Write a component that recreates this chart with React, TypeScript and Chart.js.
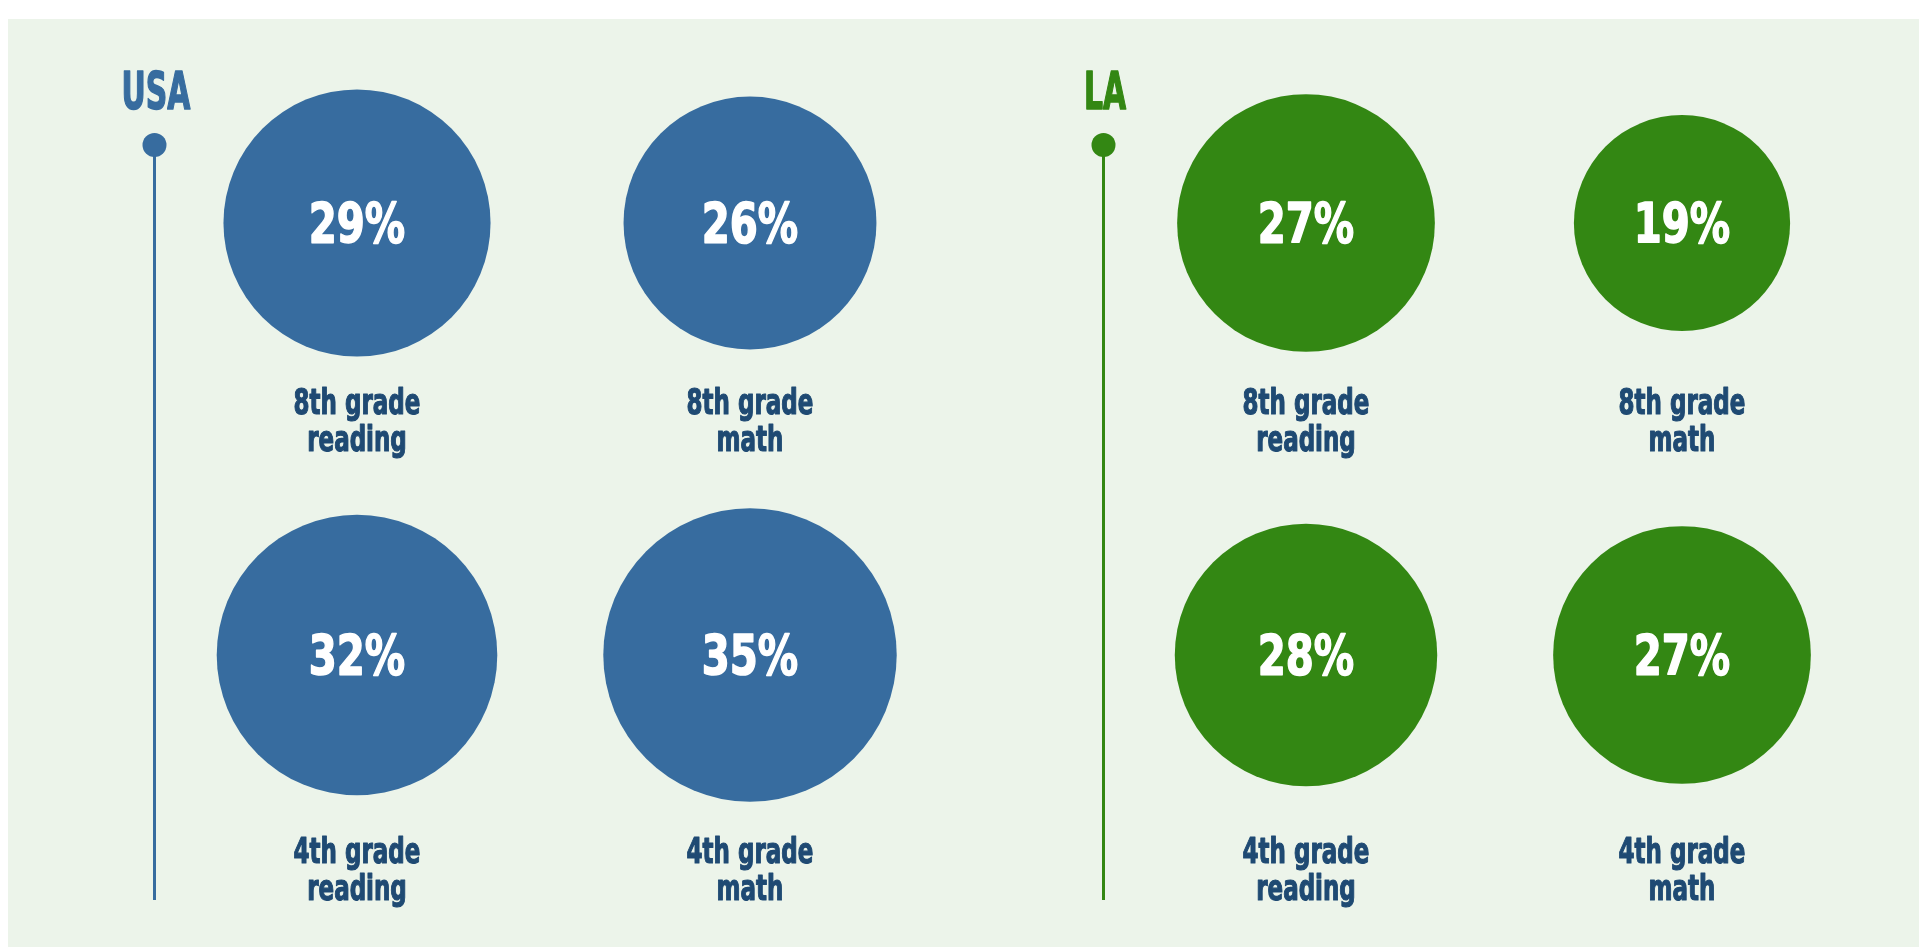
import React, { useEffect, useRef } from 'react';
import { Chart, registerables } from 'chart.js';

Chart.register(...registerables);

// ---- data ----
const SUBJECTS = ['reading', 'math'];
const GRADES = ['8th grade', '4th grade'];
const USA_8TH = [29, 26];
const USA_4TH = [32, 35];
const LA_8TH = [27, 19];
const LA_4TH = [28, 27];

// ---- style ----
const BLUE = '#376C9F';
const GREEN = '#338713';
const LABEL = '#1F4A73';
const BG = '#ECF4EA';
const FONT = '"Liberation Sans Narrow", "DejaVu Sans Condensed", Roboto, sans-serif';
const RADIUS_PER_SQRT = 24.8;
const LABEL_OFFSET = [191, 208];
const LINE_GAP = 36.5;

function drawText(
  ctx: CanvasRenderingContext2D,
  text: string,
  x: number,
  y: number,
  size: number,
  sx: number,
  color: string,
  stroke = 0
) {
  ctx.save();
  ctx.translate(x, y);
  ctx.scale(sx, 1);
  ctx.font = `bold ${size}px ${FONT}`;
  ctx.fillStyle = color;
  ctx.textAlign = 'center';
  ctx.textBaseline = 'alphabetic';
  ctx.fillText(text, 0, 0);
  if (stroke > 0) {
    ctx.strokeStyle = color;
    ctx.lineWidth = stroke;
    ctx.lineJoin = 'round';
    ctx.strokeText(text, 0, 0);
  }
  ctx.restore();
}

type GroupProps = {
  title: string;
  color: string;
  row8: number[];
  row4: number[];
  left: number;
  width: number;
  pad: { left: number; right: number; top: number; bottom: number };
};

function Group({ title, color, row8, row4, left, width, pad }: GroupProps) {
  const ref = useRef<HTMLCanvasElement | null>(null);
  useEffect(() => {
    if (!ref.current) return;
    const rows = [row8, row4];
    const data: any[] = [];
    rows.forEach((vals, gi) => {
      vals.forEach((v, si) => {
        data.push({ x: SUBJECTS[si], y: GRADES[gi], v, row: gi, subject: SUBJECTS[si] });
      });
    });

    const overlay = {
      id: 'overlay',
      beforeDatasetsDraw(chart: any) {
        const ctx: CanvasRenderingContext2D = chart.ctx;
        const ca = chart.chartArea;
        const ax = ca.left - 202.5;
        ctx.save();
        ctx.strokeStyle = color;
        ctx.lineWidth = 3;
        ctx.beginPath();
        ctx.moveTo(ax, 126);
        ctx.lineTo(ax, 881);
        ctx.stroke();
        ctx.fillStyle = color;
        ctx.beginPath();
        ctx.arc(ax, 126, 12, 0, Math.PI * 2);
        ctx.fill();
        ctx.restore();
        drawText(ctx, title, ax + 1.5, 90, 51, 0.65, color, 1.5);
      },
      afterDatasetsDraw(chart: any) {
        const ctx: CanvasRenderingContext2D = chart.ctx;
        const meta = chart.getDatasetMeta(0);
        meta.data.forEach((el: any, i: number) => {
          const raw = data[i];
          drawText(ctx, `${raw.v}%`, el.x, el.y + 19, 56, 0.8, '#FFFFFF', 1.5);
          const by = el.y + LABEL_OFFSET[raw.row];
          drawText(ctx, GRADES[raw.row], el.x, by, 36, 0.71, LABEL, 1.2);
          drawText(ctx, raw.subject, el.x, by + LINE_GAP, 36, 0.71, LABEL, 1.2);
        });
      },
    };

    const chart = new Chart(ref.current, {
      type: 'bubble',
      data: {
        datasets: [
          {
            data,
            backgroundColor: color,
            borderWidth: 0,
            clip: false as any,
            radius: (c: any) => RADIUS_PER_SQRT * Math.sqrt(c.raw.v),
          } as any,
        ],
      },
      options: {
        animation: false,
        responsive: true,
        maintainAspectRatio: false,
        events: [],
        layout: { padding: pad },
        plugins: { legend: { display: false }, tooltip: { enabled: false } },
        scales: {
          x: { type: 'category', labels: SUBJECTS, offset: false, display: false },
          y: { type: 'category', labels: GRADES, offset: false, display: false },
        },
      } as any,
      plugins: [overlay],
    });
    return () => chart.destroy();
  }, []);
  return (
    <div style={{ position: 'absolute', left, top: 0, width, height: 928 }}>
      <canvas ref={ref} />
    </div>
  );
}

export default function App() {
  return (
    <div
      style={{
        position: 'absolute',
        left: 8,
        top: 19,
        width: 1911,
        height: 928,
        background: BG,
        overflow: 'hidden',
      }}
    >
      <Group
        title="USA"
        color={BLUE}
        row8={USA_8TH}
        row4={USA_4TH}
        left={0}
        width={992}
        pad={{ left: 349, right: 250, top: 204, bottom: 292 }}
      />
      <Group
        title="LA"
        color={GREEN}
        row8={LA_8TH}
        row4={LA_4TH}
        left={992}
        width={919}
        pad={{ left: 306, right: 237, top: 204, bottom: 292 }}
      />
    </div>
  );
}
